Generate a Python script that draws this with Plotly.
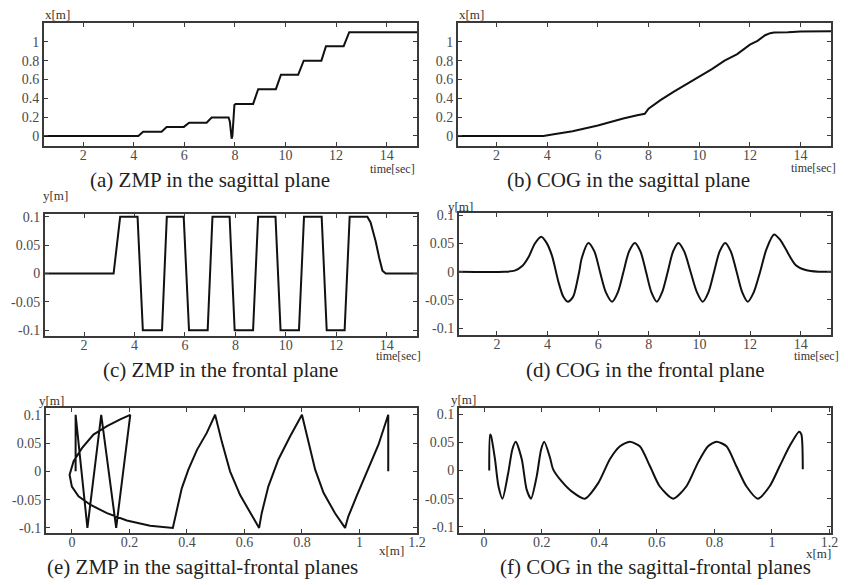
import plotly.graph_objects as go

# ---------------- data ----------------
# (a) ZMP in the sagittal plane: time [sec] vs x [m]
t_zmp_x = [0.45, 4.18, 4.37, 5.10, 5.30, 5.98, 6.19, 6.88, 7.08, 7.75, 7.80, 7.84, 7.87,
           7.90, 7.94, 7.98, 8.03, 8.72, 8.92, 9.62, 9.82, 10.50, 10.72, 11.42, 11.60,
           12.30, 12.52, 15.20]
zmp_x = [0.0, 0.0, 0.045, 0.045, 0.096, 0.096, 0.14, 0.14, 0.196, 0.196, 0.15, 0.05, -0.03,
         0.0, 0.2, 0.33, 0.34, 0.34, 0.497, 0.497, 0.65, 0.65, 0.80, 0.80, 0.953,
         0.953, 1.103, 1.103]

# (b) COG in the sagittal plane
t_cog_x = [0.45, 3.85, 4.26, 5.0, 6.0, 6.5, 7.0, 7.55, 7.85, 8.0, 8.47, 9.0, 9.53, 10.0,
           10.5, 11.0, 11.5, 12.0, 12.3, 12.6, 12.8, 12.95, 13.5, 14.0, 15.2]
cog_x = [0.0, 0.0, 0.018, 0.05, 0.11, 0.15, 0.185, 0.22, 0.235, 0.29, 0.38, 0.47, 0.55, 0.63,
         0.71, 0.80, 0.87, 0.97, 1.01, 1.07, 1.092, 1.10, 1.103, 1.11, 1.113]

# (c) ZMP in the frontal plane: time [sec] vs y [m]
t_zmp_y = [0.45, 3.17, 3.43, 4.12, 4.33, 5.09, 5.28, 5.95, 6.16, 6.90, 7.09, 7.77, 7.97,
           8.70, 8.90, 9.59, 9.79, 10.52, 10.72, 11.42, 11.62, 12.33, 12.53, 13.23, 13.36,
           13.56, 13.70, 13.83, 13.96, 15.2]
zmp_y = [0.0, 0.0, 0.1, 0.1, -0.1, -0.1, 0.1, 0.1, -0.1, -0.1, 0.1, 0.1, -0.1,
         -0.1, 0.1, 0.1, -0.1, -0.1, 0.1, 0.1, -0.1, -0.1, 0.1, 0.1, 0.09,
         0.057, 0.028, 0.005, 0.0, 0.0]

# (d) COG in the frontal plane
t_cog_y = [0.45, 2.3, 2.7, 3.0, 3.25, 3.5, 3.75, 3.95, 4.17, 4.43, 4.62, 4.8, 5.0, 5.08,
           5.25, 5.35, 5.61, 5.85, 6.07, 6.3, 6.55, 6.78, 7.0, 7.22, 7.45, 7.67, 7.89,
           8.1, 8.32, 8.53, 8.75, 8.96, 9.17, 9.4, 9.65, 9.9, 10.13, 10.36, 10.58, 10.8,
           11.02, 11.24, 11.47, 11.69, 11.91, 12.15, 12.4, 12.65, 12.95, 13.2, 13.4, 13.8,
           14.2, 14.7, 15.2]
cog_y = [0.0, 0.0, 0.002, 0.01, 0.026, 0.05, 0.062, 0.052, 0.029, -0.018, -0.044, -0.053,
         -0.045, -0.035, 0.0, 0.024, 0.051, 0.036, 0.0, -0.036, -0.053, -0.036, 0.0, 0.036,
         0.051, 0.036, 0.0, -0.036, -0.053, -0.036, 0.0, 0.036, 0.051, 0.036, 0.0, -0.036,
         -0.053, -0.036, 0.0, 0.036, 0.051, 0.036, 0.0, -0.036, -0.053, -0.036, 0.0, 0.04,
         0.066, 0.056, 0.041, 0.012, 0.003, 0.0, 0.0]

# (e) ZMP in the sagittal-frontal planes: x [m] vs y [m]
zmp_path_x = [0.013, 0.013, 0.054, 0.102, 0.154, 0.203, 0.168, 0.122, 0.075, 0.035, 0.006,
              -0.008, 0.0, 0.023, 0.064, 0.122, 0.191, 0.272, 0.351, 0.365, 0.382, 0.405,
              0.435, 0.469, 0.498, 0.521, 0.55, 0.585, 0.631, 0.651, 0.66, 0.683, 0.718,
              0.759, 0.8, 0.817, 0.846, 0.875, 0.915, 0.95, 0.961, 0.99, 1.025, 1.066,
              1.1, 1.1]
zmp_path_y = [0.0, 0.1, -0.1, 0.1, -0.1, 0.1, 0.092, 0.08, 0.065, 0.041, 0.018,
              -0.006, -0.027, -0.044, -0.059, -0.074, -0.087, -0.096, -0.1, -0.069, -0.03, 0.003,
              0.038, 0.068, 0.1, 0.053, 0.0, -0.042, -0.083, -0.1, -0.074, -0.027, 0.021,
              0.062, 0.1, 0.062, 0.003, -0.038, -0.074, -0.1, -0.08, -0.044, -0.003, 0.047,
              0.1, 0.0]

# (f) COG in the sagittal-frontal planes
cog_path_x = [0.018, 0.021, 0.024, 0.038, 0.05, 0.064, 0.084, 0.098, 0.11, 0.131, 0.148,
              0.163, 0.183, 0.198, 0.209, 0.229, 0.24, 0.269, 0.304, 0.35, 0.397, 0.437,
              0.472, 0.506, 0.541, 0.576, 0.61, 0.657, 0.703, 0.743, 0.778, 0.807, 0.842,
              0.876, 0.911, 0.951, 0.992, 1.027, 1.061, 1.094, 1.102, 1.107]
cog_path_y = [0.0, 0.064, 0.062, 0.02, -0.028, -0.05, -0.004, 0.037, 0.051, 0.02, -0.034,
              -0.05, -0.01, 0.037, 0.051, 0.023, 0.002, -0.019, -0.037, -0.05, -0.022, 0.02,
              0.043, 0.051, 0.043, 0.008, -0.028, -0.05, -0.028, 0.014, 0.043, 0.051, 0.043,
              0.008, -0.028, -0.05, -0.028, 0.008, 0.043, 0.069, 0.064, 0.002]

# tick values / labels
time_ticks = [2, 4, 6, 8, 10, 12, 14]
time_labels = ["2", "4", "6", "8", "10", "12", "14"]
xm_ticks = [0, 0.2, 0.4, 0.6, 0.8, 1]
xm_labels = ["0", "0.2", "0.4", "0.6", "0.8", "1"]
pos_ticks = [0, 0.2, 0.4, 0.6, 0.8, 1.0, 1.2]
pos_labels = ["0", "0.2", "0.4", "0.6", "0.8", "1", "1.2"]
ym_ticks = [-0.1, -0.05, 0, 0.05, 0.1]
ym_labels = ["-0.1", "-0.05", "0", "0.05", "0.1"]

titles = ["(a) ZMP in the sagittal plane", "(b) COG in the sagittal plane",
          "(c) ZMP in the frontal plane", "(d) COG in the frontal plane",
          "(e) ZMP in the sagittal-frontal planes", "(f) COG in the sagittal-frontal planes"]

# ---------------- figure ----------------
W, H = 848, 585
FONT = "Liberation Serif, Times New Roman, serif"
LINE = dict(color="#111111", width=2)

def px(x):
    return x / W

def py(y):
    return 1 - y / H

fig = go.Figure()
fig.add_trace(go.Scatter(x=t_zmp_x, y=zmp_x, mode="lines", line=LINE, xaxis="x", yaxis="y"))
fig.add_trace(go.Scatter(x=t_cog_x, y=cog_x, mode="lines", line=LINE, xaxis="x2", yaxis="y2"))
fig.add_trace(go.Scatter(x=t_zmp_y, y=zmp_y, mode="lines", line=LINE, xaxis="x3", yaxis="y3"))
fig.add_trace(go.Scatter(x=t_cog_y, y=cog_y, mode="lines", line=dict(LINE, shape="spline", smoothing=0.8), xaxis="x4", yaxis="y4"))
fig.add_trace(go.Scatter(x=zmp_path_x, y=zmp_path_y, mode="lines", line=LINE, xaxis="x5", yaxis="y5"))
fig.add_trace(go.Scatter(x=cog_path_x, y=cog_path_y, mode="lines", line=dict(LINE, shape="spline", smoothing=0.7), xaxis="x6", yaxis="y6"))

def ax(domain, rng, tv, tt, anchor, standoff):
    return dict(domain=domain, range=rng, tickvals=tv, ticktext=tt, anchor=anchor,
                showline=True, linewidth=2, linecolor="#3a3a3a", mirror="allticks",
                ticks="inside", ticklen=4, tickwidth=1, tickcolor="#3a3a3a",
                showgrid=False, zeroline=False, automargin=False,
                ticklabelstandoff=standoff,
                tickfont=dict(family=FONT, size=14, color="#4a4a4a"), fixedrange=True)

# panel boxes in pixel coordinates (left, right, top, bottom)
boxes = [(44, 417, 23, 146), (458, 831, 23, 146),
         (45, 417, 214, 336), (459, 831, 213, 335),
         (46, 417, 408, 533), (459, 831, 408, 533)]
xr = [[0.45, 15.2], [0.48, 15.2], [0.45, 15.2], [0.5, 15.2], [-0.09, 1.2], [-0.087, 1.205]]
yr = [[-0.107, 1.2], [-0.107, 1.2], [-0.11, 0.105], [-0.112, 0.104], [-0.109, 0.112], [-0.111, 0.111]]
xt = [(time_ticks, time_labels)] * 4 + [(pos_ticks, pos_labels)] * 2
yt = [(xm_ticks, xm_labels)] * 2 + [(ym_ticks, ym_labels)] * 4

layout = dict(width=W, height=H, margin=dict(l=0, r=0, t=0, b=0),
              paper_bgcolor="white", plot_bgcolor="white", showlegend=False)
for i, (l, r, t, b) in enumerate(boxes):
    s = "" if i == 0 else str(i + 1)
    layout["xaxis" + s] = ax([px(l), px(r)], xr[i], xt[i][0], xt[i][1], "y" + s, -5)
    layout["yaxis" + s] = ax([py(b), py(t)], yr[i], yt[i][0], yt[i][1], "x" + s, 0)
fig.update_layout(**layout)

def note(text, x, y, size, color="#222222"):
    fig.add_annotation(text=text, x=px(x), y=py(y), xref="paper", yref="paper",
                       showarrow=False, xanchor="center", yanchor="middle",
                       font=dict(family=FONT, size=size, color=color))

title_pos = [(210, 180), (628, 180), (220, 370), (645, 370), (202, 567), (655, 567)]
for txt, (x, y) in zip(titles, title_pos):
    note(txt, x, y, 21)

for txt, (x, y), sz in [("x[m]", (57, 14), 13), ("x[m]", (471, 14), 13),
                        ("y[m]", (55, 196), 13), ("y[m]", (460, 206), 13),
                        ("y[m]", (51, 400), 13), ("y[m]", (463, 399), 13),
                        ("time[sec]", (392, 169), 12), ("time[sec]", (813, 168), 12),
                        ("time[sec]", (398, 356), 12), ("time[sec]", (816, 356), 12),
                        ("x[m]", (391, 550), 13), ("x[m]", (818, 553), 13)]:
    note(txt, x, y, sz, "#333333")

fig.write_html("out.html", config={"displayModeBar": False},
               post_script="document.body.style.margin='0px';")
